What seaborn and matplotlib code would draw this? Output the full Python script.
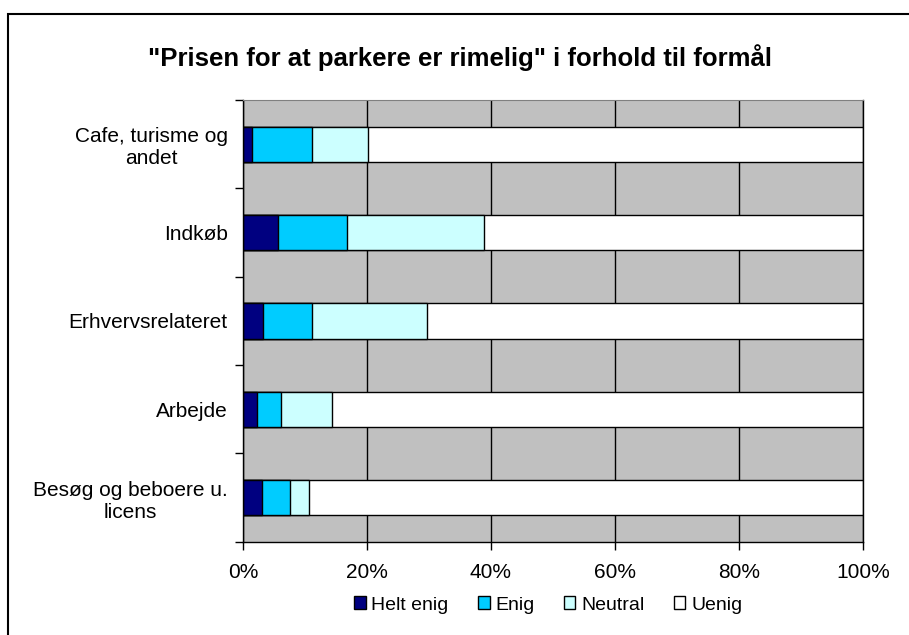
import matplotlib
matplotlib.use("Agg")
from matplotlib import pyplot as plt
from matplotlib.patches import Patch, Rectangle
from matplotlib.ticker import FuncFormatter, FixedLocator
import pandas as pd
import seaborn as sns

# data (percent of answers)
categories = ["Cafe, turisme og\nandet", "Indkøb", "Erhvervsrelateret",
              "Arbejde", "Besøg og beboere u.\nlicens"]
helt_enig = [1.5, 5.6, 3.2, 2.2, 3.1]
enig = [9.6, 11.1, 8.0, 3.9, 4.5]
neutral = [9.1, 22.2, 18.4, 8.3, 3.0]
uenig = [79.8, 61.1, 70.4, 85.6, 89.4]

series = ["Helt enig", "Enig", "Neutral", "Uenig"]
colors = ["#000080", "#00CCFF", "#CCFFFF", "#FFFFFF"]

sns.set_style("white")
plt.rcParams['font.family'] = ['Liberation Sans', 'DejaVu Sans']
plt.rcParams['text.color'] = 'black'
plt.rcParams['xtick.color'] = 'black'
plt.rcParams['ytick.color'] = 'black'
plt.rcParams['axes.labelcolor'] = 'black'

# cumulative sums so the bars can be stacked by overdrawing
df = pd.DataFrame({"kategori": categories, "Helt enig": helt_enig,
                   "Enig": enig, "Neutral": neutral, "Uenig": uenig})
cum = df[series].cumsum(axis=1)
cum["kategori"] = df["kategori"]

fig = plt.figure(figsize=(9.09, 6.35), dpi=100)
ax = fig.add_axes([243 / 909, 1 - 541.7 / 635, 620 / 909, 441.7 / 635])
ax.set_facecolor("#C0C0C0")
ax.set_axisbelow(True)
ax.xaxis.grid(True, color="black", linewidth=1)

for name, col in reversed(list(zip(series, colors))):
    sns.barplot(data=cum, x=name, y="kategori", order=categories, orient="h",
                color=col, edgecolor="black", linewidth=1, width=0.4,
                saturation=1, ax=ax)

ax.set_xlim(0, 100)
ax.set_ylim(4.5, -0.5)
ax.set_xticks([0, 20, 40, 60, 80, 100])
ax.xaxis.set_major_formatter(FuncFormatter(lambda v, p: f"{v:.0f}%"))
ax.tick_params(axis="x", length=6, width=1, direction="out", pad=9,
               labelsize=15, bottom=True, colors="black")
ax.tick_params(axis="y", which="major", length=0, pad=11, labelsize=15,
               colors="black")
ax.yaxis.set_minor_locator(FixedLocator([-0.5, 0.5, 1.5, 2.5, 3.5, 4.5]))
ax.tick_params(axis="y", which="minor", length=6, width=1, direction="out",
               left=True, colors="black")
for lab in ax.get_yticklabels():
    lab.set_multialignment("center")
ax.set_xlabel("")
ax.set_ylabel("")

for side in ["left", "bottom", "right"]:
    ax.spines[side].set_color("black")
    ax.spines[side].set_linewidth(1)
ax.spines["top"].set_color("#808080")
ax.spines["top"].set_linewidth(0.8)

fig.text(460 / 909, 1 - 58 / 635, '"Prisen for at parkere er rimelig" i forhold til formål',
         ha="center", va="center", fontsize=18.5, fontweight="bold", color="black")

handles = [Patch(facecolor=c, edgecolor="black", linewidth=1, label=s)
           for s, c in zip(series, colors)]
fig.legend(handles=handles, loc="center", bbox_to_anchor=(0.603, 1 - 605 / 635),
           ncol=4, frameon=False, fontsize=14, handlelength=0.6, handleheight=0.6,
           handletextpad=0.3, columnspacing=1.5, labelcolor="black")

# outer chart border
fig.patches.append(Rectangle((8 / 909, -0.05), 1.1, 1.05 - 14 / 635, fill=False,
                             edgecolor="black", linewidth=1.5,
                             transform=fig.transFigure, clip_on=False))

fig.savefig("out.png", dpi=100)
